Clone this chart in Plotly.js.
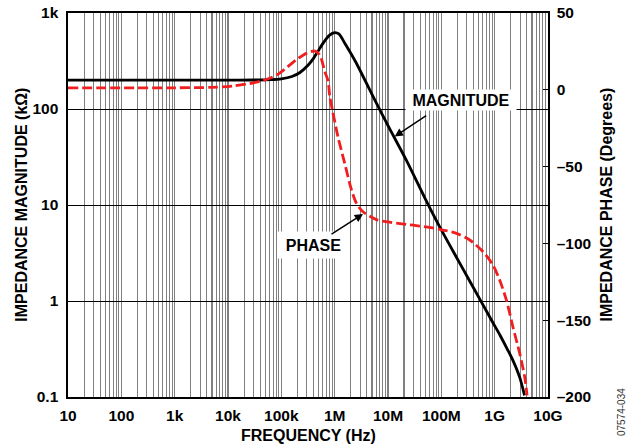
<!DOCTYPE html>
<html>
<head>
<meta charset="utf-8">
<script src="https://cdn.plot.ly/plotly-3.0.1.min.js"></script>
<style>html,body{margin:0;padding:0;background:#fff;}#chart{width:632px;height:448px;}</style>
</head>
<body>
<div id="chart"></div>
<script>
// Impedance magnitude (kOhm) vs frequency (Hz)
var magFreq = [10, 1e3, 1e4, 3.16e4, 6.3e4, 1e5, 1.58e5, 2.24e5, 3.16e5, 3.98e5, 5.01e5, 6.31e5, 7.94e5, 1e6, 1.2e6, 1.58e6, 2.51e6, 5.01e6, 1e7, 2.24e7, 5e7, 1e8, 2.24e8, 5.62e8, 9.33e8, 1.26e9, 1.78e9, 2.24e9, 2.95e9, 3.63e9];
var magValue = [200, 200, 200, 200.5, 202, 206, 218, 240, 285, 335, 410, 500, 585, 625, 605, 475, 305, 142, 67, 28.8, 11.6, 5.5, 2.45, 0.98, 0.59, 0.44, 0.305, 0.235, 0.16, 0.104];

// Impedance phase (degrees) vs frequency (Hz)
var phaseFreq = [10, 1e3, 5e3, 1.24e4, 2.5e4, 3.9e4, 6e4, 9.3e4, 1.9e5, 3e5, 4.3e5, 5.3e5, 6.5e5, 7.5e5, 8.1e5, 9.3e5, 1.16e6, 1.54e6, 2.06e6, 2.56e6, 3.4e6, 6.07e6, 1.08e7, 2.2e7, 3.9e7, 9.3e7, 1.92e8, 3.4e8, 6.05e8, 9.3e8, 1.24e9, 1.66e9, 2.2e9, 2.95e9, 3.66e9, 4.05e9];
var phaseValue = [1.2, 1.3, 1.6, 2.5, 4, 5.5, 7.5, 10.9, 19.5, 23.9, 25.2, 22.5, 12, 6, -4.4, -15, -31, -47.8, -65, -73.9, -79.4, -84.5, -86.2, -87.6, -88.7, -90.8, -93.5, -97.8, -105.4, -114.1, -123.9, -136.9, -154.4, -171.7, -187, -199];

// Tick labels
var xTickVals = [10, 100, 1e3, 1e4, 1e5, 1e6, 1e7, 1e8, 1e9, 1e10];
var xTickText = ['10', '100', '1k', '10k', '100k', '1M', '10M', '100M', '1G', '10G'];
var yTickVals = [0.1, 1, 10, 100, 1000];
var yTickText = ['0.1', '1', '10', '100', '1k'];
var y2TickVals = [-200, -150, -100, -50, 0, 50];
var y2TickText = ['\u2013200', '\u2013150', '\u2013100', '\u201350', '0', '50'];

var FONT = 'Liberation Sans, Arial, Helvetica, sans-serif';
var tickFont = {family: FONT, size: 15.5, color: '#000', weight: 'bold'};
var titleFont = {family: FONT, size: 16, color: '#000', weight: 'bold'};

var traces = [
  {x: magFreq, y: magValue, type: 'scatter', mode: 'lines', name: 'MAGNITUDE',
   line: {color: '#000', width: 2.8, shape: 'spline', smoothing: 0.8}, xaxis: 'x', yaxis: 'y', hoverinfo: 'skip'},
  {x: phaseFreq, y: phaseValue, type: 'scatter', mode: 'lines', name: 'PHASE',
   line: {color: '#f01e1e', width: 2.8, dash: '10px,4px', shape: 'spline', smoothing: 0.8}, xaxis: 'x', yaxis: 'y2', hoverinfo: 'skip'}
];

var layout = {
  width: 632, height: 448,
  margin: {l: 68, r: 84, t: 13, b: 51, pad: 0},
  paper_bgcolor: '#fff', plot_bgcolor: '#fff',
  showlegend: false,
  xaxis: {
    type: 'log', range: [1, 10], tickmode: 'array', tickvals: xTickVals, ticktext: xTickText,
    tickfont: tickFont, showgrid: true, gridcolor: '#808080', gridwidth: 1.1,
    minor: {dtick: 'D1', showgrid: true, gridcolor: '#808080', gridwidth: 1.1, ticks: ''},
    showline: true, linecolor: '#000', linewidth: 1.6, mirror: true, ticks: '', zeroline: false,
    ticklabelstandoff: 4
  },
  yaxis: {
    type: 'log', range: [-1, 3], tickmode: 'array', tickvals: yTickVals, ticktext: yTickText,
    tickfont: tickFont, showgrid: true, gridcolor: '#000', gridwidth: 1,
    showline: true, linecolor: '#000', linewidth: 1.6, ticks: '', zeroline: false,
    ticklabelstandoff: 5
  },
  yaxis2: {
    overlaying: 'y', side: 'right', range: [-200, 50], tickmode: 'array', tickvals: y2TickVals, ticktext: y2TickText,
    tickfont: tickFont, showgrid: false, zeroline: false,
    showline: true, linecolor: '#000', linewidth: 1.6, ticks: 'inside', ticklen: 5, tickwidth: 1.2, tickcolor: '#000',
    ticklabelstandoff: 4
  },
  annotations: [
    {xref: 'paper', yref: 'paper', x: 0.5, y: -0.101, text: 'FREQUENCY (Hz)', showarrow: false,
     xanchor: 'center', yanchor: 'middle', font: titleFont},
    {xref: 'paper', yref: 'paper', x: -0.0985, y: 0.5, text: 'IMPEDANCE MAGNITUDE (k\u03A9)', showarrow: false,
     textangle: -90, xanchor: 'center', yanchor: 'middle', font: titleFont},
    {xref: 'paper', yref: 'paper', x: 1.1198, y: 0.5, text: 'IMPEDANCE PHASE (Degrees)', showarrow: false,
     textangle: -90, xanchor: 'center', yanchor: 'middle', font: titleFont},
    {xref: 'paper', yref: 'paper', x: 1.1535, y: -0.04, text: '07574-034', showarrow: false,
     textangle: -90, xanchor: 'center', yanchor: 'middle', font: {family: FONT, size: 10, color: '#333'}},
    // label boxes
    {xref: 'paper', yref: 'paper', x: 0.8196, y: 0.7739, text: 'MAGNITUDE', showarrow: false,
     xanchor: 'center', yanchor: 'middle', bgcolor: '#fff', width: 108, height: 18, borderpad: 1, font: titleFont},
    {xref: 'paper', yref: 'paper', x: 0.5115, y: 0.3957, text: 'PHASE', showarrow: false,
     xanchor: 'center', yanchor: 'middle', bgcolor: '#fff', width: 69, height: 24, borderpad: 1, font: titleFont},
    // arrows
    {xref: 'paper', yref: 'paper', x: 0.6806, y: 0.6781, ax: 33, ay: -22, text: '', showarrow: true,
     arrowhead: 2, arrowsize: 1.1, arrowwidth: 1.5, arrowcolor: '#000', standoff: 0},
    {xref: 'paper', yref: 'paper', x: 0.6146, y: 0.4765, ax: -33, ay: 21, text: '', showarrow: true,
     arrowhead: 2, arrowsize: 1.1, arrowwidth: 1.5, arrowcolor: '#000', standoff: 0}
  ]
};

Plotly.newPlot('chart', traces, layout, {staticPlot: true, displayModeBar: false});
</script>
</body>
</html>
